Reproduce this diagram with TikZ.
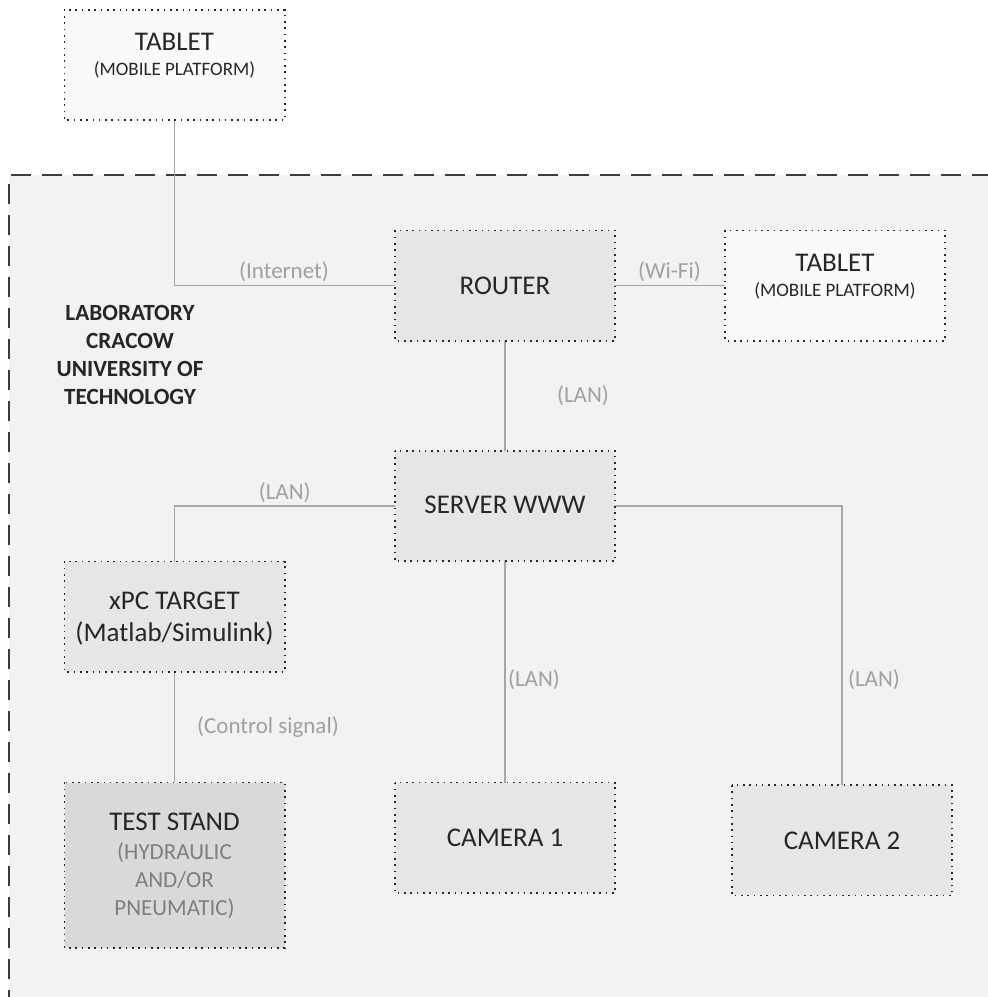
\documentclass[tikz,border=0pt]{standalone}
\usepackage{fontspec}
\setmainfont{Carlito}
\usetikzlibrary{positioning}
\definecolor{txt}{HTML}{262626}
\definecolor{lbl}{HTML}{A0A0A0}
\definecolor{subtxt}{HTML}{7F7F7F}
\definecolor{conn}{HTML}{A6A6A6}
\definecolor{labbg}{HTML}{F2F2F2}
\definecolor{boxbg}{HTML}{E6E6E6}
\definecolor{tabbg}{HTML}{FAFAFA}
\definecolor{standbg}{HTML}{D9D9D9}
\tikzset{
  devbox/.style={draw=none, fill=boxbg, minimum width=220pt, minimum height=110pt, inner sep=0pt},
  boxborder/.style={draw=txt, line width=1.6pt, dash pattern=on 1.6pt off 4.7pt},
  conline/.style={draw=conn, line width=1.5pt},
  lbltext/.style={text=lbl, font=\fontsize{23}{28}\selectfont, inner sep=0pt},
  bigtext/.style={text=txt, font=\fontsize{27}{31}\selectfont, inner sep=0pt, align=center},
  smalltext/.style={text=txt, font=\fontsize{19}{23}\selectfont, inner sep=0pt},
}
\begin{document}
\begin{tikzpicture}[x=1pt,y=-1pt]
\useasboundingbox (0,0) rectangle (988,997);
\fill[white] (0,0) rectangle (988,997);
% laboratory area
\fill[labbg] (9,175) rectangle (1000,1010);
\draw[draw=txt!90, line width=1.4pt, dash pattern=on 20pt off 11pt] (9,1010) -- (9,175) -- (1000,175);
% boxes
\node[devbox, fill=tabbg] (tab1) at (174.5,65) {};
\node[devbox] (router) at (505,285.5) {};
\node[devbox, fill=tabbg] (tab2) at (835,285.5) {};
\node[devbox] (server) at (505,506) {};
\node[devbox] (xpc) at (174.5,616.7) {};
\node[devbox, minimum height=165pt, fill=standbg] (stand) at (174.5,865) {};
\node[devbox] (cam1) at (505,837.7) {};
\node[devbox] (cam2) at (842,840.3) {};
% texts
\node[bigtext] (t1a) at (174.5,41.5) {TABLET};
\node[smalltext] (t1b) at (174.5,69.5) {(MOBILE PLATFORM)};
\node[bigtext] (rt) at (505,285.5) {ROUTER};
\node[bigtext] (t2a) at (835,262.5) {TABLET};
\node[smalltext] (t2b) at (835,290.5) {(MOBILE PLATFORM)};
\node[bigtext] (sv) at (505,505) {SERVER WWW};
\node[bigtext] (xa) at (174.5,601) {xPC TARGET};
\node[bigtext] (xb) at (174.5,633) {(Matlab/Simulink)};
\node[bigtext] (sa) at (174.5,822) {TEST STAND};
\node[text=subtxt, font=\fontsize{23}{28.3}\selectfont, inner sep=0pt, align=center, anchor=north] (sb) at (174.5,842) {(HYDRAULIC\\AND/OR\\PNEUMATIC)};
\node[bigtext] (c1) at (505,838) {CAMERA 1};
\node[bigtext] (c2) at (842,840.5) {CAMERA 2};
\node[text=txt, font=\fontsize{23.2}{28}\bfseries\selectfont, inner sep=0pt, align=center] (lab) at (130,355) {LABORATORY\\CRACOW\\UNIVERSITY OF\\TECHNOLOGY};
% connectors
\coordinate (k1) at (tab1.south |- router.west);
\draw[conline] (tab1.south) -- (k1) -- (router.west);
\draw[conline] (router.east) -- (tab2.west);
\draw[conline] (router.south) -- (server.north);
\coordinate (k2) at (xpc.north |- server.west);
\draw[conline] (server.west) -- (k2) -- (xpc.north);
\draw[conline] (server.south) -- (cam1.north);
\coordinate (k3) at (cam2.north |- server.east);
\draw[conline] (server.east) -- (k3) -- (cam2.north);
\draw[conline] (xpc.south) -- (stand.north);
% dotted box borders on top of lines
\foreach \n in {tab1,router,tab2,server,xpc,stand,cam1,cam2}{
  \draw[boxborder] (\n.north west) rectangle (\n.south east);
}
% connector labels
\node[lbltext] (l1) at (284,272) {(Internet)};
\node[lbltext] (l2) at (669.5,272) {(Wi-Fi)};
\node[lbltext] (l3) at (583,396) {(LAN)};
\node[lbltext] (l4) at (284.7,493) {(LAN)};
\node[lbltext] (l5) at (534,680) {(LAN)};
\node[lbltext] (l6) at (874,680) {(LAN)};
\node[lbltext] (l7) at (268,727) {(Control signal)};
\end{tikzpicture}
\end{document}
